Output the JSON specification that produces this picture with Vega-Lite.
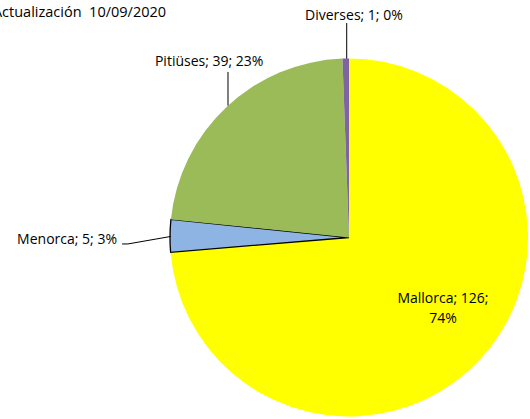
{
  "$schema": "https://vega.github.io/schema/vega-lite/v6.json",
  "width": 362,
  "height": 362,
  "autosize": "none",
  "padding": {"left": 168, "top": 56.5, "right": 0, "bottom": 0},
  "background": "white",
  "config": {"view": {"stroke": null}, "font": "Open Sans"},
  "datasets": {
    "islas": [
      {"isla": "Mallorca", "casos": 126, "pct": 74, "orden": 1},
      {"isla": "Menorca", "casos": 5, "pct": 3, "orden": 2},
      {"isla": "Pitiüses", "casos": 39, "pct": 23, "orden": 3},
      {"isla": "Diverses", "casos": 1, "pct": 0, "orden": 4}
    ],
    "guias": [
      {"guia": "Diverses", "paso": 1, "u": -0.0128, "v": 1.198},
      {"guia": "Diverses", "paso": 2, "u": -0.0128, "v": 0.999},
      {"guia": "Pitiüses", "paso": 1, "u": -0.676, "v": 0.925},
      {"guia": "Pitiüses", "paso": 2, "u": -0.676, "v": 0.737},
      {"guia": "Menorca", "paso": 1, "u": -1.268, "v": -0.036},
      {"guia": "Menorca", "paso": 2, "u": -1.235, "v": -0.036},
      {"guia": "Menorca", "paso": 3, "u": -0.995, "v": 0.006}
    ],
    "titulo": [
      {"texto": "Actualización\u00a0 10/09/2020"}
    ]
  },
  "layer": [
    {
      "data": {"name": "islas"},
      "mark": {"type": "arc", "radius": 179, "stroke": "black"},
      "encoding": {
        "theta": {"field": "casos", "type": "quantitative", "stack": true},
        "order": {"field": "orden", "type": "quantitative"},
        "color": {
          "field": "isla",
          "type": "nominal",
          "scale": {
            "domain": ["Mallorca", "Menorca", "Pitiüses", "Diverses"],
            "range": ["#FFFF00", "#8DB4E2", "#9BBB59", "#8064A2"]
          },
          "legend": null
        },
        "strokeWidth": {
          "condition": {"test": "datum.isla === 'Menorca'", "value": 1.3},
          "value": 0
        }
      }
    },
    {
      "data": {"name": "islas"},
      "transform": [
        {"calculate": "[datum.isla + '; ' + datum.casos + ';', datum.pct + '%']", "as": "etiqueta"}
      ],
      "mark": {"type": "text", "radius": 110, "dx": 13, "dy": -13, "align": "center", "baseline": "middle", "fontSize": 14, "lineHeight": 20, "color": "black"},
      "encoding": {
        "theta": {"field": "casos", "type": "quantitative", "stack": true},
        "order": {"field": "orden", "type": "quantitative"},
        "text": {"condition": {"test": "datum.isla === 'Mallorca'", "field": "etiqueta"}, "value": ""}
      }
    },
    {
      "data": {"name": "islas"},
      "transform": [
        {"calculate": "datum.isla + '; ' + datum.casos + '; ' + datum.pct + '%'", "as": "etiqueta"}
      ],
      "mark": {"type": "text", "radius": 232, "dx": 0, "dy": 5, "align": "right", "baseline": "middle", "fontSize": 14, "color": "black"},
      "encoding": {
        "theta": {"field": "casos", "type": "quantitative", "stack": true},
        "order": {"field": "orden", "type": "quantitative"},
        "text": {"condition": {"test": "datum.isla === 'Menorca'", "field": "etiqueta"}, "value": ""}
      }
    },
    {
      "data": {"name": "islas"},
      "transform": [
        {"calculate": "datum.isla + '; ' + datum.casos + '; ' + datum.pct + '%'", "as": "etiqueta"}
      ],
      "mark": {"type": "text", "radius": 200, "dx": -3, "dy": -30, "align": "center", "baseline": "middle", "fontSize": 14, "color": "black"},
      "encoding": {
        "theta": {"field": "casos", "type": "quantitative", "stack": true},
        "order": {"field": "orden", "type": "quantitative"},
        "text": {"condition": {"test": "datum.isla === 'Pitiüses'", "field": "etiqueta"}, "value": ""}
      }
    },
    {
      "data": {"name": "islas"},
      "transform": [
        {"calculate": "datum.isla + '; ' + datum.casos + '; ' + datum.pct + '%'", "as": "etiqueta"}
      ],
      "mark": {"type": "text", "radius": 222, "dx": 9, "dy": 0, "align": "center", "baseline": "middle", "fontSize": 14, "color": "black"},
      "encoding": {
        "theta": {"field": "casos", "type": "quantitative", "stack": true},
        "order": {"field": "orden", "type": "quantitative"},
        "text": {"condition": {"test": "datum.isla === 'Diverses'", "field": "etiqueta"}, "value": ""}
      }
    },
    {
      "data": {"name": "guias"},
      "mark": {"type": "line", "color": "black", "strokeWidth": 1},
      "encoding": {
        "x": {"field": "u", "type": "quantitative", "scale": {"domain": [-1.0112, 1.0112], "nice": false, "zero": false}, "axis": null},
        "y": {"field": "v", "type": "quantitative", "scale": {"domain": [-1.0112, 1.0112], "nice": false, "zero": false}, "axis": null},
        "detail": {"field": "guia", "type": "nominal"},
        "order": {"field": "paso", "type": "quantitative"}
      }
    },
    {
      "data": {"name": "titulo"},
      "mark": {"type": "text", "align": "right", "baseline": "alphabetic", "fontSize": 14.5, "color": "black"},
      "encoding": {
        "x": {"datum": -1.022, "type": "quantitative", "scale": {"domain": [-1.0112, 1.0112], "nice": false, "zero": false}, "axis": null},
        "y": {"datum": 1.232, "type": "quantitative", "scale": {"domain": [-1.0112, 1.0112], "nice": false, "zero": false}, "axis": null},
        "text": {"field": "texto"}
      }
    }
  ]
}
